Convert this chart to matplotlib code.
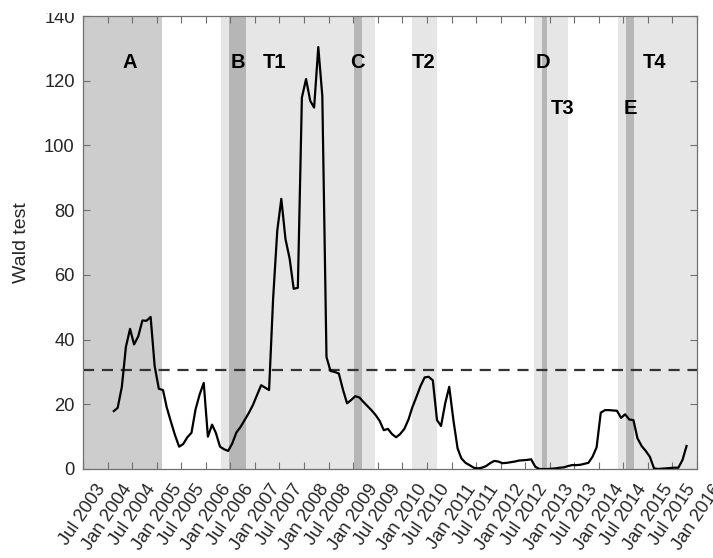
import numpy as np
import pandas as pd
import matplotlib
matplotlib.use("Agg")
import matplotlib.pyplot as plt
import matplotlib.dates as mdates
from matplotlib.patches import Rectangle

plt.rcParams['font.family'] = ['Liberation Sans', 'DejaVu Sans']

# monthly Wald statistic, Feb 2004 .. Oct 2015
start_month = "2004-02"
wald = [17.9, 18.9, 25.4, 37.7, 43.3, 38.5, 41.0, 45.9, 45.8, 47.0, 31.8,
        24.8, 24.4, 19.0, 14.6, 10.5, 6.9, 7.7, 9.8, 11.2, 18.4, 23.1, 26.6,
        10.0, 13.7, 11.2, 6.9, 6.1, 5.6, 7.9, 11.3, 13.0, 15.1, 17.3, 19.7,
        22.8, 25.9, 25.2, 24.4, 52.6, 73.7, 83.5, 71.1, 65.0, 55.7, 56.0, 114.8,
        120.5, 113.8, 111.7, 130.4, 115.3, 34.6, 30.3, 30.0, 29.5, 24.6, 20.3, 21.3,
        22.5, 22.1, 20.8, 19.5, 18.2, 16.7, 14.9, 12.0, 12.4, 10.8, 9.8, 10.8,
        12.4, 15.3, 19.0, 22.3, 25.6, 28.3, 28.5, 27.4, 15.1, 13.3, 20.3, 25.4,
        15.1, 6.4, 3.3, 1.9, 1.2, 0.4, 0.2, 0.4, 0.9, 1.8, 2.5, 2.3,
        1.8, 1.9, 2.1, 2.3, 2.6, 2.7, 2.8, 3.0, 0.7, 0.0, 0.0, 0.0,
        0.1, 0.2, 0.4, 0.5, 0.9, 1.2, 1.2, 1.3, 1.6, 1.9, 3.8, 6.7,
        17.4, 18.2, 18.2, 18.1, 18.0, 15.8, 16.9, 15.3, 15.1, 9.5, 7.1, 5.6,
        3.8, 0.2, 0.0, 0.1, 0.2, 0.3, 0.4, 0.4, 2.8, 7.1]
critical = 30.6

# shaded periods
dark_span = [("2003-07-01", "2005-02-10")]
light_spans = [("2006-04-20", "2009-06-10"), ("2010-03-14", "2010-09-13"),
               ("2012-09-09", "2013-05-15"), ("2014-05-22", "2016-01-01")]
break_spans = [("2006-06-20", "2006-10-22"), ("2009-01-08", "2009-03-07"),
               ("2012-11-06", "2012-12-09"), ("2014-07-19", "2014-09-20")]

labels = ["A", "B", "T1", "C", "T2", "D", "T3", "E", "T4"]
label_dates = ["2004-06-10", "2006-08-25", "2007-05-22", "2009-01-30", "2010-06-10",
               "2012-11-10", "2013-04-08", "2014-08-22", "2015-02-22"]
label_y = [125.5, 125.5, 125.5, 125.5, 125.5, 125.5, 111.3, 111.3, 125.5]

dates = pd.date_range(start_month, periods=len(wald), freq="MS") + pd.Timedelta(days=14)

fig = plt.figure(figsize=(7.13, 5.58), dpi=100)
ax = fig.add_axes([0.1164, 0.1595, 0.8612, 0.8118])

for a, b in dark_span:
    ax.axvspan(pd.Timestamp(a), pd.Timestamp(b), color="#cdcdcd", lw=0, zorder=0)
for a, b in light_spans:
    ax.axvspan(pd.Timestamp(a), pd.Timestamp(b), color="#e6e6e6", lw=0, zorder=0)
for a, b in break_spans:
    ax.axvspan(pd.Timestamp(a), pd.Timestamp(b), color="#b6b6b6", lw=0, zorder=1)

ax.axhline(critical, color="#333333", lw=1.6, ls=(0, (5, 3.5)), zorder=2)
ax.plot(dates, wald, color="black", lw=1.6, zorder=3)

for txt, d, y in zip(labels, label_dates, label_y):
    ax.text(pd.Timestamp(d), y, txt, fontsize=14.5, fontweight="bold",
            ha="center", va="center", zorder=4)

ax.set_xlim(pd.Timestamp("2003-07-01"), pd.Timestamp("2016-01-01"))
ax.set_ylim(0, 140)
ticks = pd.date_range("2003-07-01", "2016-01-01", freq="6MS")
ax.set_xticks(ticks)
ax.xaxis.set_major_formatter(mdates.DateFormatter("%b %Y"))
ax.set_yticks(np.arange(0, 141, 20))
plt.setp(ax.get_xticklabels(), rotation=56, ha="center", va="top")

ax.tick_params(direction="in", length=5, width=0.8, top=True, right=True,
               labelsize=13.2, colors="#707070", labelcolor="#262626")
ax.tick_params(axis="x", pad=9)
ax.tick_params(axis="y", pad=6)
for s in ax.spines.values():
    s.set_color("#707070")
    s.set_linewidth(0.9)
ax.set_ylabel("Wald test", fontsize=14, color="#262626", labelpad=10)

# the source image is cropped just above the plot frame
fig.patches.append(Rectangle((0, 1 - 13 / 558), 1, 13 / 558, transform=fig.transFigure,
                             facecolor="white", edgecolor="none", zorder=10))

fig.savefig("out.png", dpi=100)
